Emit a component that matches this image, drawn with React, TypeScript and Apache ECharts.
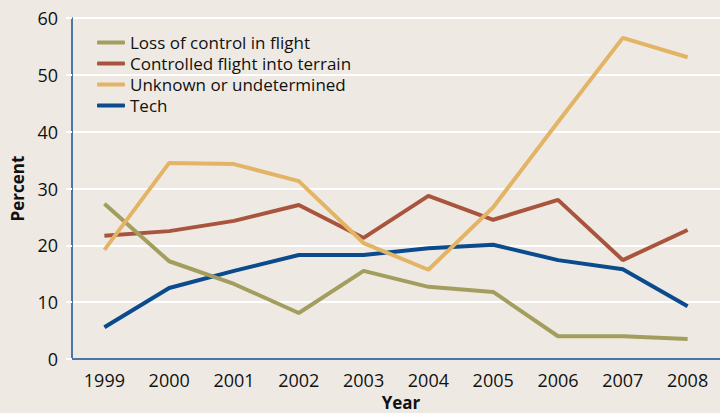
import React, { useEffect, useRef } from "react";
import * as echarts from "echarts";

const years = ["1999", "2000", "2001", "2002", "2003", "2004", "2005", "2006", "2007", "2008"];
const lossOfControl = [27.3, 17.2, 13.2, 8.1, 15.5, 12.7, 11.8, 4.0, 4.0, 3.5];
const controlledFlight = [21.7, 22.5, 24.3, 27.1, 21.3, 28.7, 24.5, 28.0, 17.4, 22.7];
const unknown = [19.2, 34.5, 34.3, 31.3, 20.4, 15.7, 26.7, 41.7, 56.5, 53.1];
const tech = [5.6, 12.5, 15.5, 18.3, 18.3, 19.5, 20.1, 17.4, 15.8, 9.3];
const yTicks = { min: 0, max: 60, interval: 10 };

const FONT = "'Open Sans', 'Noto Sans', sans-serif";

export default function App() {
  const ref = useRef<HTMLDivElement>(null);
  useEffect(() => {
    const chart = echarts.init(ref.current!, null, { renderer: "svg" });
    const line = (name: string, data: number[], color: string, z: number) => ({
      name,
      type: "line",
      data,
      symbol: "none",
      z,
      lineStyle: { color, width: 4 },
      itemStyle: { color },
    });
    chart.setOption({
      animation: false,
      backgroundColor: "#eeeae3",
      textStyle: { fontFamily: FONT },
      legend: {
        orient: "vertical",
        left: 92,
        top: 29,
        itemWidth: 28,
        itemHeight: 4,
        itemGap: 4,
        icon: "roundRect",
        textStyle: { fontFamily: FONT, fontSize: 17, color: "#111" },
        data: [
          "Loss of control in flight",
          "Controlled flight into terrain",
          "Unknown or undetermined",
          "Tech",
        ],
      },
      grid: { left: 72, right: 0, top: 18, bottom: 54, containLabel: false, outerBoundsMode: "none" },
      xAxis: {
        type: "category",
        data: years,
        boundaryGap: true,
        axisLine: { lineStyle: { color: "#4a75a6", width: 2 } },
        axisTick: { show: false },
        axisLabel: { fontFamily: FONT, fontSize: 18, color: "#111", margin: 12 },
        name: "Year",
        nameLocation: "middle",
        nameGap: 34,
        nameTextStyle: { fontFamily: FONT, fontSize: 17, fontWeight: "bold", color: "#111", padding: [0, 0, 0, 10] },
      },
      yAxis: {
        type: "value",
        min: yTicks.min,
        max: yTicks.max,
        interval: yTicks.interval,
        axisLine: { show: true, lineStyle: { color: "#4a75a6", width: 2 } },
        axisTick: { show: true, length: 6, lineStyle: { color: "#ffffff", width: 2 } },
        splitLine: { lineStyle: { color: "#ffffff", width: 2 } },
        axisLabel: { fontFamily: FONT, fontSize: 18, color: "#111", margin: 14 },
        name: "Percent",
        nameLocation: "middle",
        nameGap: 46,
        nameRotate: 90,
        nameTextStyle: { fontFamily: FONT, fontSize: 17, fontWeight: "bold", color: "#111" },
      },
      series: [
        line("Tech", tech, "#0b4a8c", 2),
        line("Controlled flight into terrain", controlledFlight, "#a9553d", 3),
        line("Loss of control in flight", lossOfControl, "#a39e5e", 4),
        line("Unknown or undetermined", unknown, "#e3b465", 5),
      ],
    });
    return () => chart.dispose();
  }, []);
  return <div ref={ref} style={{ width: 720, height: 413, position: "absolute", left: 0, top: 0 }} />;
}
